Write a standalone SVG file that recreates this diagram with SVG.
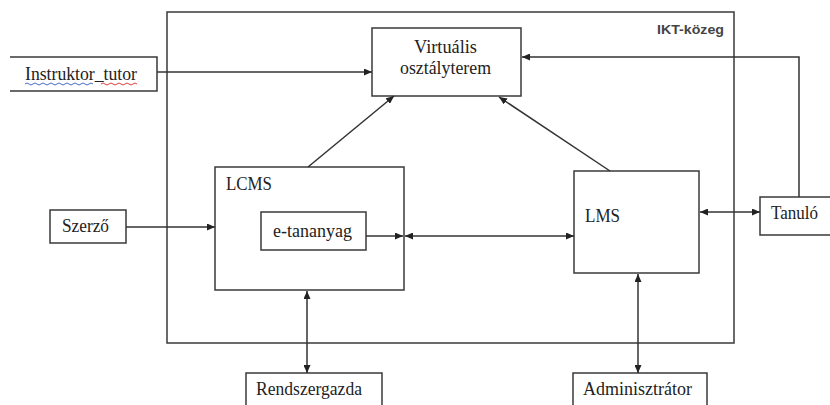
<svg xmlns="http://www.w3.org/2000/svg" width="830" height="405" viewBox="0 0 830 405">
  <style>
    .box { fill: #fff; stroke: #3a3a3a; stroke-width: 1.5; }
    .frame { fill: none; stroke: #3a3a3a; stroke-width: 1.5; }
    .lbl { font-family: "Liberation Serif", "Times New Roman", serif; font-size: 18px; fill: #222; }
    .env { font-family: "Liberation Sans", Arial, sans-serif; font-size: 12px; font-weight: bold; fill: #444; }
    .wire { fill: none; stroke: #333; stroke-width: 1.5; }
    .one { marker-end: url(#tip); }
    .two { marker-start: url(#tip); marker-end: url(#tip); }
    .squig { fill: none; stroke-width: 1; }
  </style>
  <defs>
    <marker id="tip" viewBox="0 0 8 7" refX="8" refY="3.5" markerWidth="8" markerHeight="7" markerUnits="userSpaceOnUse" orient="auto-start-reverse">
      <path d="M0,0 L8,3.5 L0,7 z" fill="#222"/>
    </marker>
  </defs>

  <rect width="830" height="405" fill="#fff"/>

  <!-- ICT environment frame -->
  <g id="ikt-kozeg">
    <rect class="frame" x="167" y="12" width="567" height="331"/>
    <text class="env" x="657" y="34" textLength="67" lengthAdjust="spacingAndGlyphs">IKT-közeg</text>
  </g>

  <g id="instruktor">
    <path class="box" d="M10,57 H157 V91 H10"/>
    <text class="lbl" x="25" y="80" textLength="112" lengthAdjust="spacingAndGlyphs">Instruktor_tutor</text>
    <path class="squig" stroke="#4a6bd0" d="M25,84 q2,-2 4,0 t4,0 t4,0 t4,0 t4,0 t4,0 t4,0 t4,0 t4,0 t4,0 t4,0 t4,0 t4,0 t4,0 t4,0 t4,0 t4,0"/>
    <path class="squig" stroke="#e04040" d="M101,84 q2,-2 4,0 t4,0 t4,0 t4,0 t4,0 t4,0 t4,0 t4,0 t4,0"/>
  </g>

  <g id="virtualis">
    <rect class="box" x="372" y="28" width="149" height="68"/>
    <text class="lbl" x="414" y="53" textLength="63" lengthAdjust="spacingAndGlyphs">Virtuális</text>
    <text class="lbl" x="400" y="74" textLength="91" lengthAdjust="spacingAndGlyphs">osztályterem</text>
  </g>

  <g id="szerzo">
    <rect class="box" x="50" y="210" width="76" height="33"/>
    <text class="lbl" x="62" y="232" textLength="47" lengthAdjust="spacingAndGlyphs">Szerző</text>
  </g>

  <g id="lcms">
    <rect class="box" x="215" y="167" width="189" height="123"/>
    <text class="lbl" x="226" y="190" textLength="46" lengthAdjust="spacingAndGlyphs">LCMS</text>
  </g>

  <g id="e-tananyag">
    <rect class="box" x="261" y="212" width="105" height="38"/>
    <text class="lbl" x="273" y="237" textLength="79" lengthAdjust="spacingAndGlyphs">e-tananyag</text>
  </g>

  <g id="lms">
    <rect class="box" x="574" y="171" width="125" height="102"/>
    <text class="lbl" x="585" y="222" textLength="35" lengthAdjust="spacingAndGlyphs">LMS</text>
  </g>

  <g id="tanulo">
    <path class="box" d="M832,197 H760 V235 H832"/>
    <text class="lbl" x="771" y="219" textLength="47" lengthAdjust="spacingAndGlyphs">Tanuló</text>
  </g>

  <g id="rendszergazda">
    <path class="box" d="M246,407 V373 H382 V407"/>
    <text class="lbl" x="256" y="395" textLength="106" lengthAdjust="spacingAndGlyphs">Rendszergazda</text>
  </g>

  <g id="adminisztrator">
    <path class="box" d="M573,407 V373 H707 V407"/>
    <text class="lbl" x="583" y="395" textLength="109" lengthAdjust="spacingAndGlyphs">Adminisztrátor</text>
  </g>

  <!-- connectors -->
  <g id="connectors">
    <line class="wire one" x1="157" y1="72" x2="372" y2="72"/>
    <path class="wire one" d="M799,197 V57 H522"/>
    <line class="wire one" x1="308" y1="167" x2="394" y2="96"/>
    <line class="wire one" x1="610" y1="171" x2="499" y2="97"/>
    <line class="wire one" x1="126" y1="227" x2="215" y2="227"/>
    <line class="wire one" x1="366" y1="236" x2="403" y2="236"/>
    <line class="wire two" x1="405" y1="236" x2="574" y2="236"/>
    <line class="wire two" x1="700" y1="212" x2="760" y2="212"/>
    <line class="wire two" x1="307" y1="291" x2="307" y2="373"/>
    <line class="wire two" x1="638" y1="274" x2="638" y2="373"/>
  </g>
</svg>
